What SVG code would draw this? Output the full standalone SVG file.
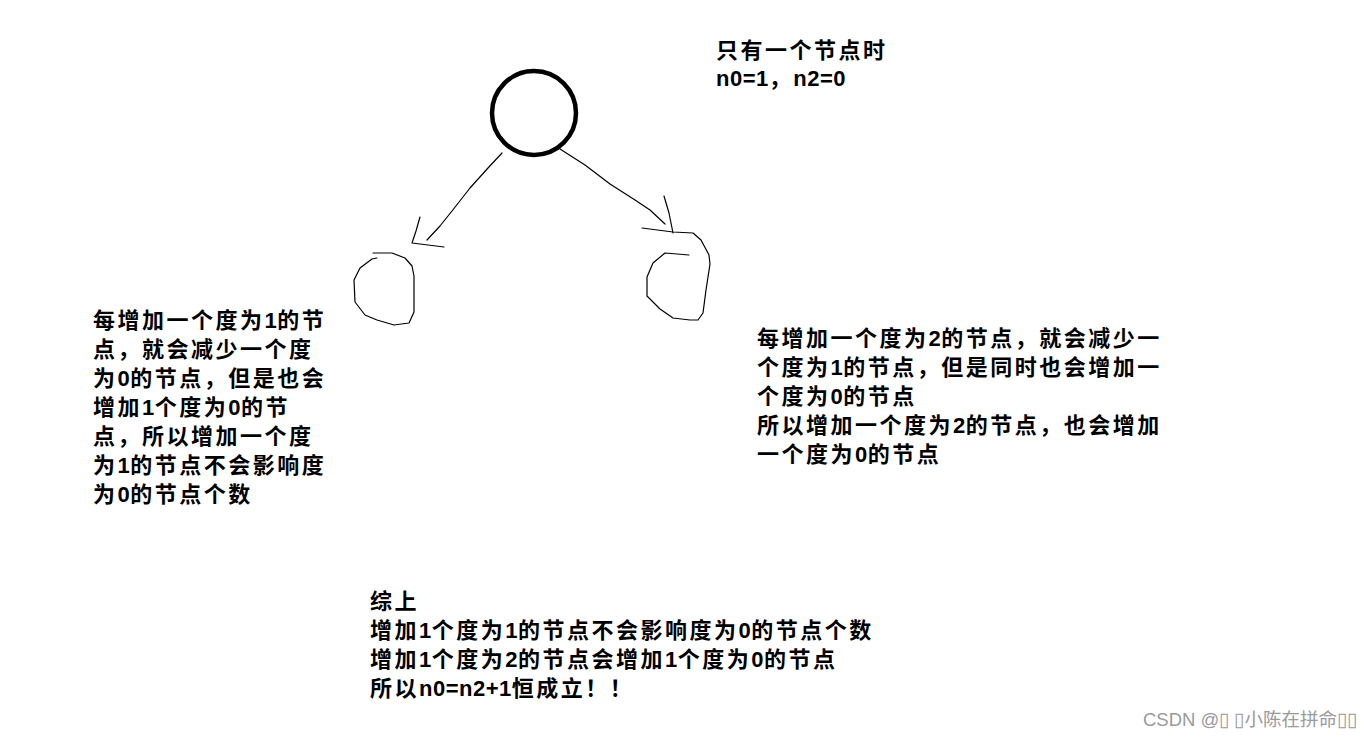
<svg xmlns="http://www.w3.org/2000/svg" width="1364" height="737" viewBox="0 0 1364 737">
<style>
.t{font-family:"Liberation Sans","Noto Sans CJK SC",sans-serif;font-size:22px;font-weight:bold;letter-spacing:2.5px;fill:#000}
.l{letter-spacing:0.5px}
.h{fill:none;stroke:#000;stroke-width:1.2;stroke-linejoin:round;stroke-linecap:round}
.wm{font-family:"Liberation Sans","Noto Sans CJK SC",sans-serif;font-size:18.5px;fill:#9a9a9a}
</style>
<rect width="1364" height="737" fill="#fff"/>
<g id="root">
<circle cx="534" cy="113" r="42" fill="none" stroke="#000" stroke-width="4.5"/>
</g>
<g id="left-child">
<path class="h" d="M373,253 L392,253 L405,258 L412,266 L414,276 L414,312 L409,323 L394,325 L377,320 L365,315 L355,302 L354,280 L360,268 L372,259 L377,258"/>
</g>
<g id="right-child">
<path class="h" d="M642,228 L673,232 L693,233 L701,240 L709,255 L710,264 L706,290 L703,313 L698,320 L690,320 L673,318 L660,309 L647,296 L647,277 L653,263 L665,253 L689,255"/>
</g>
<g id="connectors">
<path class="h" d="M502,153 L488,168 L470,188 L452,211 L440,226 L427,240"/>
<path class="h" d="M420,217 L416,231 L412,243 L444,247"/>
<path class="h" d="M560,149 L585,165 L610,184 L635,200 L650,210 L665,224"/>
<path class="h" d="M664,196 L669,213 L673,233"/>
</g>
<g id="top-text">
<text class="t" x="716" y="58">只有一个节点时</text>
<text class="t" x="716" y="86"><tspan class="l">n0=1</tspan>，<tspan class="l">n2=0</tspan></text>
</g>
<g id="left-text">
<text class="t" x="93" y="328">每增加一个度为<tspan class="l">1</tspan>的节</text>
<text class="t" x="93" y="357">点，就会减少一个度</text>
<text class="t" x="93" y="386">为<tspan class="l">0</tspan>的节点，但是也会</text>
<text class="t" x="93" y="415">增加<tspan class="l">1</tspan>个度为<tspan class="l">0</tspan>的节</text>
<text class="t" x="93" y="444">点，所以增加一个度</text>
<text class="t" x="93" y="473">为<tspan class="l">1</tspan>的节点不会影响度</text>
<text class="t" x="93" y="502">为<tspan class="l">0</tspan>的节点个数</text>
</g>
<g id="right-text">
<text class="t" x="757" y="346">每增加一个度为<tspan class="l">2</tspan>的节点，就会减少一</text>
<text class="t" x="757" y="375">个度为<tspan class="l">1</tspan>的节点，但是同时也会增加一</text>
<text class="t" x="757" y="404">个度为<tspan class="l">0</tspan>的节点</text>
<text class="t" x="757" y="433">所以增加一个度为<tspan class="l">2</tspan>的节点，也会增加</text>
<text class="t" x="757" y="462">一个度为<tspan class="l">0</tspan>的节点</text>
</g>
<g id="bottom-text">
<text class="t" x="370" y="609">综上</text>
<text class="t" x="370" y="638">增加<tspan class="l">1</tspan>个度为<tspan class="l">1</tspan>的节点不会影响度为<tspan class="l">0</tspan>的节点个数</text>
<text class="t" x="370" y="667">增加<tspan class="l">1</tspan>个度为<tspan class="l">2</tspan>的节点会增加<tspan class="l">1</tspan>个度为<tspan class="l">0</tspan>的节点</text>
<text class="t" x="370" y="696">所以<tspan class="l">n0=n2+1</tspan>恒成立！！</text>
</g>
<g id="watermark">
<text class="wm" x="1143" y="726">CSDN @▯ ▯小陈在拼命▯▯</text>
</g>
</svg>
